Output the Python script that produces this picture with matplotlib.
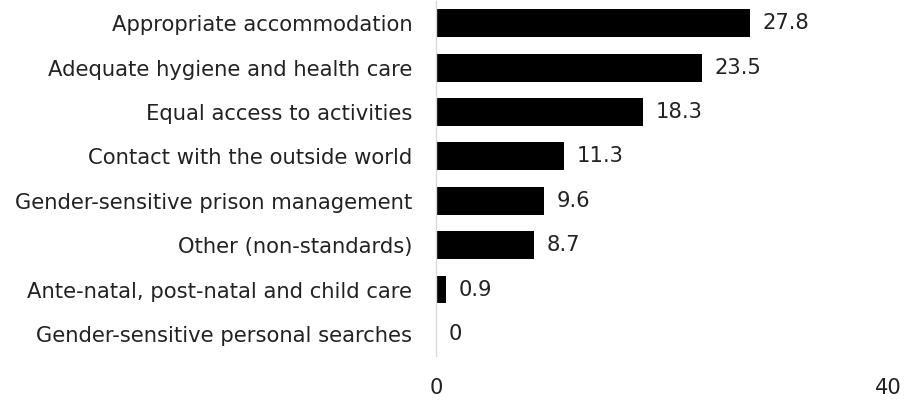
import matplotlib.pyplot as plt

categories = [
    "Appropriate accommodation",
    "Adequate hygiene and health care",
    "Equal access to activities",
    "Contact with the outside world",
    "Gender-sensitive prison management",
    "Other (non-standards)",
    "Ante-natal, post-natal and child care",
    "Gender-sensitive personal searches",
]
values = [27.8, 23.5, 18.3, 11.3, 9.6, 8.7, 0.9, 0]
value_labels = ["27.8", "23.5", "18.3", "11.3", "9.6", "8.7", "0.9", "0"]
x_ticks = [0, 40]

plt.rcParams['font.family'] = ['DejaVu Sans']
fs = 15.2

fig = plt.figure(figsize=(9.11, 4.01), dpi=100)
ax = fig.add_axes([0.4786, 0.112, 0.4962, 0.8855])

pos = list(range(len(categories)))
ax.barh(pos, values, height=0.63, color='black')
for p, v, lab in zip(pos, values, value_labels):
    ax.annotate(lab, (v, p), xytext=(9, 0), textcoords='offset points',
                va='center', ha='left', fontsize=fs, color='#222222')

ax.set_ylim(len(categories) - 0.5, -0.5)
ax.set_xlim(0, 40)
ax.set_yticks(pos)
ax.set_yticklabels(categories, fontsize=fs, color='#222222')
ax.set_xticks(x_ticks)
ax.set_xticklabels([str(t) for t in x_ticks], fontsize=fs, color='#222222')
ax.tick_params(axis='y', length=0, pad=17)
ax.tick_params(axis='x', length=0, pad=16)

for s in ['top', 'right', 'bottom']:
    ax.spines[s].set_visible(False)
ax.spines['left'].set_color('#d9d9d9')
ax.spines['left'].set_linewidth(1)

fig.savefig('out.png', dpi=100)
